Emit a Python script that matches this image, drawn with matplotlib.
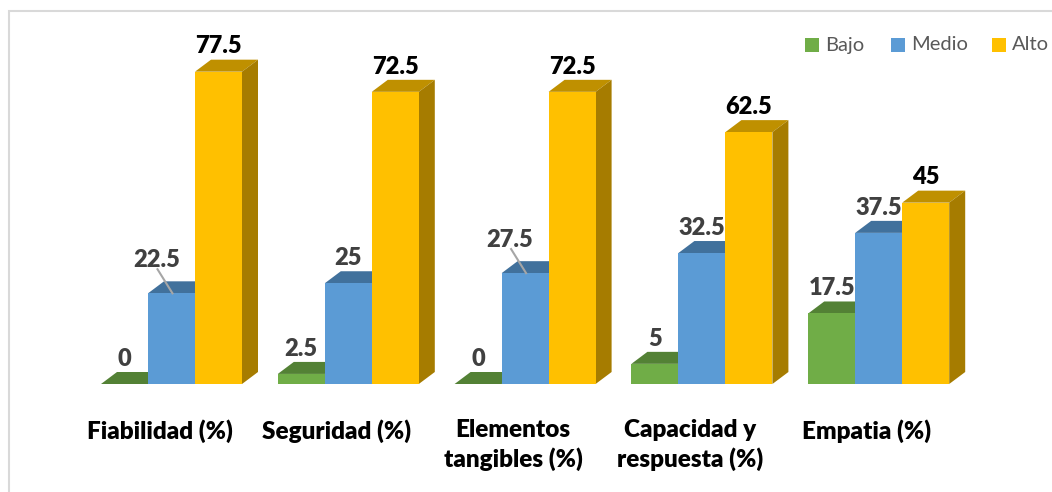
import numpy as np
import matplotlib
matplotlib.use("Agg")
import matplotlib.pyplot as plt
from matplotlib.patches import Polygon, Rectangle

## Data
categories = ["Fiabilidad (%)", "Seguridad (%)", "Elementos\ntangibles (%)",
              "Capacidad y\nrespuesta (%)", "Empatia (%)"]
series = ["Bajo", "Medio", "Alto"]
bajo = [0, 2.5, 0, 5, 17.5]
medio = [22.5, 25, 27.5, 32.5, 37.5]
alto = [77.5, 72.5, 72.5, 62.5, 45]

## Colours: front, top, side
front = ["#70AD47", "#5B9BD5", "#FFC000"]
top = ["#538135", "#41719C", "#BF9000"]
side = ["#4E7A32", "#3A6690", "#A67C00"]
label_col = ["#404040", "#404040", "#000000"]

W, H = 1052, 492
fig = plt.figure(figsize=(W / 100, H / 100), dpi=100)
ax = fig.add_axes([0, 0, 1, 1])

# pixel geometry
px_group = 176.8
px_unit = 4.03
base_px = 384
x0 = -171.5 / px_group
ax.set_xlim(x0, x0 + W / px_group)
ax.set_ylim((base_px - H) / px_unit, base_px / px_unit)
ax.axis("off")

w = 47 / px_group
dx = 16 / px_group
dy = 12 / px_unit

vals = [bajo, medio, alto]
for i in range(len(categories)):
    for s in range(3):
        v = vals[s][i]
        left = i + (s - 1.5) * w
        right = left + w
        # top face
        ax.add_patch(Polygon([(left, v), (right, v), (right + dx, v + dy), (left + dx, v + dy)],
                             closed=True, facecolor=top[s], edgecolor="none", zorder=2 + s))
        # side face
        ax.add_patch(Polygon([(right, 0), (right + dx, dy), (right + dx, v + dy), (right, v)],
                             closed=True, facecolor=side[s], edgecolor="none", zorder=2 + s))
        # front face
        if v > 0:
            ax.add_patch(Rectangle((left, 0), w, v, facecolor=front[s],
                                   edgecolor="none", zorder=2 + s))
        # value label
        cx = left + w / 2
        if s == 1 and v in (22.5, 27.5):
            tx = cx - 15 / px_group
            ax.plot([cx - 14 / px_group, cx + 1 / px_group], [v + dy + 3, v], color="#A6A6A6",
                    lw=1.5, zorder=10)
            ax.annotate(f"{v:g}", (tx, v + dy), xytext=(0, 10), textcoords="offset points",
                        ha="center", va="baseline", fontsize=17, fontweight="heavy",
                        family="Lato", color=label_col[s], zorder=11)
        else:
            ax.annotate(f"{v:g}", (cx, v + dy), xytext=(0, 4.5), textcoords="offset points",
                        ha="center", va="baseline", fontsize=17, fontweight="heavy",
                        family="Lato", color=label_col[s], zorder=11)

# category labels
for i, c in enumerate(categories):
    ax.text(i - 12 / px_group, (base_px - 419) / px_unit, c, ha="center", va="top",
            fontsize=17.5, fontweight="heavy", family="Lato", color="black",
            linespacing=1.3)

# legend
leg_x = [805, 891, 992]
for s in range(3):
    fig.patches.append(Rectangle((leg_x[s] / W, 1 - 52 / H), 14 / W, 14 / H,
                                 transform=fig.transFigure, facecolor=front[s],
                                 edgecolor="none"))
    fig.text((leg_x[s] + 20) / W, 1 - 45 / H, series[s], ha="left", va="center",
             fontsize=14.5, family="Lato", color="#595959")

# frame
fig.patches.append(Rectangle((9 / W, -0.1), 1.2, 1 - 11 / H + 0.1,
                             transform=fig.transFigure, facecolor="none",
                             edgecolor="#D9D9D9", lw=1.5))

fig.savefig("out.png", dpi=100)
